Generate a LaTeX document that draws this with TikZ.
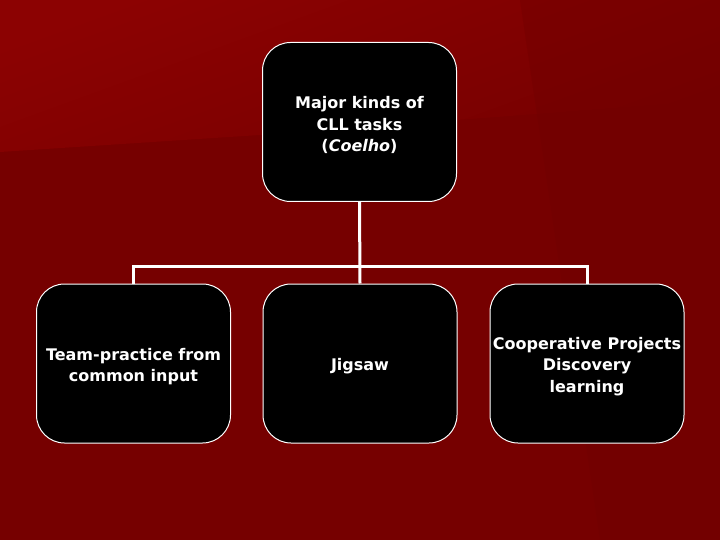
\documentclass[tikz,border=0pt]{standalone}
\usepackage{fontspec}
\setmainfont{DejaVu Sans}
\begin{document}
\begin{tikzpicture}[x=1pt,y=-1pt,
  box/.style={draw=white, line width=1pt, fill=black, rounded corners=28pt,
    minimum width=194pt, minimum height=159pt, inner sep=0pt},
  lbl/.style={text=white, align=center, font=\bfseries\fontsize{16}{21.8}\selectfont, inner sep=0pt, yshift=-3pt},
  conn/.style={draw=white, line width=3pt}]
\useasboundingbox (0,0) rectangle (720,540);
\definecolor{bgA}{HTML}{8C0202}
\definecolor{bgB}{HTML}{6E0000}
\definecolor{bgC}{HTML}{760000}
\fill[bgC] (0,0) rectangle (720,540);
\shade[top color=bgA, bottom color=bgC, shading angle=20] (0,0) -- (720,0) -- (720,100) -- (260,135) -- (0,152) -- cycle;
\fill[bgB, opacity=0.35] (520,0) -- (720,0) -- (720,540) -- (600,540) -- cycle;
\node[box] (top) at (359.5,122) {};
\node[box] (left) at (133.5,363.5) {};
\node[box] (mid) at (360,363.5) {};
\node[box] (right) at (587,363.5) {};
\node[lbl] (toptext) at (top) {Major kinds of\\CLL tasks\\(\textit{Coelho})};
\node[lbl] (lefttext) at (left) {Team-practice from\\common input};
\node[lbl] (midtext) at (mid) {Jigsaw};
\node[lbl] (righttext) at (right) {Cooperative Projects\\Discovery\\learning};
\coordinate (bus) at (359,266);
\draw[conn] (top.south) -- (mid.north);
\draw[conn] (left.north) -- (left.north |- bus) -- (right.north |- bus) -- (right.north);
\end{tikzpicture}
\end{document}
